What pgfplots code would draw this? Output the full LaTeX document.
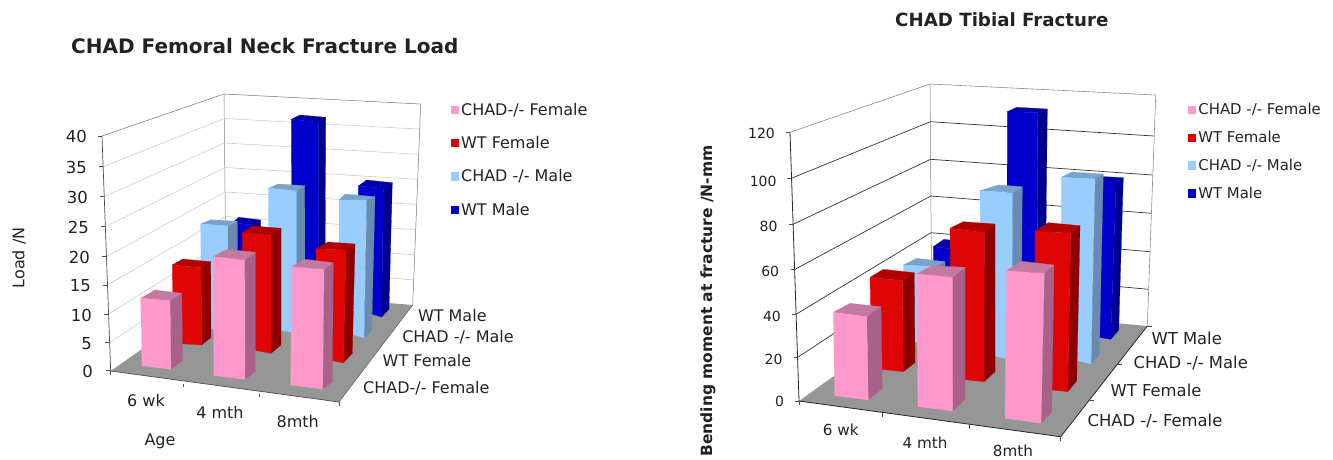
\documentclass[border=0pt]{standalone}
\usepackage{pgfplots}
\pgfplotsset{compat=1.18}
\usepackage{fontspec}
\setmainfont{DejaVu Sans}
\definecolor{pinkF}{HTML}{FF99CC}\definecolor{pinkS}{HTML}{A8628A}\definecolor{pinkT}{HTML}{C4799F}
\definecolor{redF}{HTML}{E00505}\definecolor{redS}{HTML}{8E0000}\definecolor{redT}{HTML}{B00000}
\definecolor{lbF}{HTML}{99CCFF}\definecolor{lbS}{HTML}{6A8BAF}\definecolor{lbT}{HTML}{7AA3CC}
\definecolor{dbF}{HTML}{0000CC}\definecolor{dbS}{HTML}{000090}\definecolor{dbT}{HTML}{0000A8}
\definecolor{floorc}{HTML}{969696}\definecolor{txt}{HTML}{222222}
% one 3-D column: colour prefix, then corners TL TR BR BL, top-back-left, right-back-top, right-back-bottom
\newcommand{\barcol}[2]{\barparse{#1}#2\relax}
\def\barparse#1(#2)(#3)(#4)(#5)(#6)(#7)(#8)\relax{%
 \addplot[forget plot,fill=#1S,draw=#1S,line width=.2pt] coordinates {(#3)(#4)(#8)(#7)} --cycle;
 \addplot[forget plot,fill=#1T,draw=#1T,line width=.2pt] coordinates {(#2)(#3)(#7)(#6)} --cycle;
 \addplot[forget plot,fill=#1F,draw=#1F,line width=.2pt] coordinates {(#2)(#3)(#4)(#5)} --cycle;
}
\newcommand{\seg}[3]{\addplot[forget plot,draw=#1,line width=#2] coordinates {#3};}
\pgfplotsset{panel/.style={
  at={(0,0)},anchor=south west,scale only axis,width=1333pt,height=459pt,
  xmin=0,xmax=1333,ymin=0,ymax=459,y dir=reverse,hide axis,clip=false,no markers,
  legend cell align=left,
  legend style={draw=none,fill=none,anchor=north west,inner sep=0pt,outer sep=0pt,text=txt},
  legend image code/.code={\fill[##1,draw=none] (0pt,-4.2pt) rectangle (8.4pt,4.2pt);},
}}
\begin{document}
\begin{tikzpicture}
\useasboundingbox (0,0) rectangle (1333pt,459pt);
% ---------- left panel
\begin{axis}[panel,
  legend style={at={(axis cs:450.7,101)},font=\fontsize{16pt}{18pt}\selectfont,/tikz/every even column/.style={column sep=5.5pt},row sep=15.7pt}]
\addlegendimage{fill=pinkF,draw=none}\addlegendentry{CHAD-/- Female}
\addlegendimage{fill=redF,draw=none}\addlegendentry{WT Female}
\addlegendimage{fill=lbF,draw=none}\addlegendentry{CHAD -/- Male}
\addlegendimage{fill=dbF,draw=none}\addlegendentry{WT Male}
\addplot[forget plot,fill=floorc,draw=none] coordinates {(110.7,371)(339,402)(412.7,305)(226,290)} --cycle;
\seg{black!55}{.5pt}{(102,136)(224,94)(420.7,104)(412.7,305)}
\seg{black!50}{.5pt}{(224,94)(226,290)}
\seg{black!20}{.6pt}{(109.6,342.7)(226,265.5)(413.7,279.9)}
\seg{black!20}{.6pt}{(108.5,314)(226,241)(414.7,254.8)}
\seg{black!20}{.6pt}{(107.4,285)(225.5,216.5)(415.7,229.6)}
\seg{black!20}{.6pt}{(106.4,256.7)(225,192)(416.7,204.5)}
\seg{black!20}{.6pt}{(105.3,226.7)(225,167.5)(417.7,179.4)}
\seg{black!20}{.6pt}{(104.2,196.7)(224.5,143)(418.7,154.3)}
\seg{black!20}{.6pt}{(103.1,166.7)(224.5,118.5)(419.7,129.1)}
\seg{black!70}{.7pt}{(102,136)(110.7,371)(339,402)}
\seg{black!60}{.6pt}{(339,402)(412.7,305)}
\seg{black!70}{.5pt}{(98,136)(102,136)}\seg{black!70}{.5pt}{(99,166.7)(103.1,166.7)}
\seg{black!70}{.5pt}{(100,196.7)(104.2,196.7)}\seg{black!70}{.5pt}{(101,226.7)(105.3,226.7)}
\seg{black!70}{.5pt}{(102,256.7)(106.4,256.7)}\seg{black!70}{.5pt}{(103,285)(107.4,285)}
\seg{black!70}{.5pt}{(104,314)(108.5,314)}\seg{black!70}{.5pt}{(105,342.7)(109.6,342.7)}
\seg{black!70}{.5pt}{(106,370.7)(110.7,370.7)}
\seg{black!70}{.5pt}{(110.7,371)(110.7,375)}\seg{black!70}{.5pt}{(183.3,384)(183.3,387)}
\seg{black!70}{.5pt}{(259.3,394)(259.3,397)}\seg{black!70}{.5pt}{(339,402)(339,406)}
% WT Male
\barcol{db}{(232.5,222.7)(253,225)(253,300)(232.5,295)(238.7,217.3)(260.7,220)(260.7,290)}
\barcol{db}{(291.3,119.3)(318.3,122.3)(318.3,286.7)(292,280)(300,115)(325.7,117.3)(325,280)}
\barcol{db}{(358.3,186)(383.3,188.3)(381.7,317)(358,310)(366.7,180)(392.3,182.7)(389,309)}
% CHAD -/- Male
\barcol{lb}{(200.7,224)(227.7,226)(228,330)(201.3,328)(210.7,219.7)(237.3,221.3)(237.3,313.3)}
\barcol{lb}{(268.3,188.3)(296.7,190.7)(296.7,333.3)(269,328.3)(278.3,184)(304.7,185.7)(305,326.7)}
\barcol{lb}{(339,200)(366.7,200)(364,338)(339,330)(345,194)(375,196.7)(371.7,330.7)}
% WT Female
\barcol{red}{(172.3,265)(201,267.7)(201.7,345)(173.3,343.3)(182.7,259)(210.7,261.7)(211,337.3)}
\barcol{red}{(242.3,232.3)(271,235.7)(271,353.3)(243,348.3)(252.7,226)(281,228.3)(281,345)}
\barcol{red}{(316,249)(346,250)(343.3,362.7)(317,358)(328,242)(355,244)(352.3,353.3)}
% CHAD -/- Female
\barcol{pink}{(140.7,298.3)(170,300.7)(171,369.3)(142,365.7)(155,290)(181.7,293.3)(182.7,360.7)}
\barcol{pink}{(213.3,256.7)(244.7,260)(245,379.3)(214,375.7)(226.7,249.3)(255.3,252.3)(255.3,371.7)}
\barcol{pink}{(291.7,266.7)(324,269.3)(322.7,389.3)(290.7,385)(305,259.3)(333.3,262.7)(332.3,381.7)}
\begin{scope}[every node/.style={text=txt,inner sep=0pt,font=\fontsize{16pt}{18pt}\selectfont}]
\node[anchor=west,font=\bfseries\fontsize{20pt}{22pt}\selectfont] at (axis cs:71,46) {CHAD Femoral Neck Fracture Load};
\node[rotate=90] at (axis cs:19,258) {Load /N};
\begin{scope}[every node/.append style={anchor=east,font=\fontsize{16.5pt}{18pt}\selectfont}]
\node at (axis cs:87,136.7) {40};\node at (axis cs:87,167) {35};\node at (axis cs:88,197) {30};
\node at (axis cs:89,227) {25};\node at (axis cs:90,257) {20};\node at (axis cs:91,286) {15};
\node at (axis cs:92,315) {10};\node at (axis cs:92,344) {5};\node at (axis cs:93,371.7) {0};
\end{scope}
\node at (axis cs:146,401) {6 wk};\node at (axis cs:220,412) {4 mth};\node at (axis cs:297.7,421.7) {8mth};
\node at (axis cs:160,441) {Age};
\node at (axis cs:452.3,316) {WT Male};\node at (axis cs:458,337) {CHAD -/- Male};
\node at (axis cs:427,361) {WT Female};\node at (axis cs:426.3,387.7) {CHAD-/- Female};
\end{scope}
\end{axis}
% ---------- right panel
\begin{axis}[panel,
  legend style={at={(axis cs:1188,101.5)},font=\fontsize{14.9pt}{17pt}\selectfont,/tikz/every even column/.style={column sep=3pt},row sep=11pt}]
\addlegendimage{fill=pinkF,draw=none}\addlegendentry{CHAD -/- Female}
\addlegendimage{fill=redF,draw=none}\addlegendentry{WT Female}
\addlegendimage{fill=lbF,draw=none}\addlegendentry{CHAD -/- Male}
\addlegendimage{fill=dbF,draw=none}\addlegendentry{WT Male}
\addplot[forget plot,fill=floorc,draw=none] coordinates {(799,401)(1060.7,436.7)(1147.3,326)(931.7,306)} --cycle;
\seg{black!45}{.6pt}{(790,132.3)(930,84)(1155.7,95)(1147.3,326)}
\seg{black!50}{.5pt}{(930,84)(931.7,306)}
\seg{black!80}{.7pt}{(791.3,178.3)(930.3,121.7)(1153.7,136)}
\seg{black!80}{.7pt}{(793,224.3)(930.5,159.3)(1152.3,175)}
\seg{black!80}{.7pt}{(795,269.3)(930.8,196)(1151,213.3)}
\seg{black!80}{.7pt}{(796,314.3)(931,232.7)(1149.7,251.7)}
\seg{black!80}{.7pt}{(797.7,357.3)(931.3,269.3)(1148.3,289.3)}
\seg{black!85}{.8pt}{(790,132.3)(799,401)(1060.7,436.7)(1147.3,326)}
\seg{black!70}{.5pt}{(786,132.3)(790,132.3)}\seg{black!70}{.5pt}{(787,178.3)(791.3,178.3)}
\seg{black!70}{.5pt}{(789,224.3)(793,224.3)}\seg{black!70}{.5pt}{(791,269.3)(795,269.3)}
\seg{black!70}{.5pt}{(792,314.3)(796,314.3)}\seg{black!70}{.5pt}{(793.7,357.3)(797.7,357.3)}
\seg{black!70}{.5pt}{(795,401)(799,401)}
\seg{black!70}{.5pt}{(799,401)(799,405)}\seg{black!70}{.5pt}{(882.7,413)(882.7,417)}
\seg{black!70}{.5pt}{(969.3,425)(969.3,429)}\seg{black!70}{.5pt}{(1060.7,436.7)(1060.7,441)}
\seg{black!70}{.5pt}{(1147.3,326)(1152,326)}\seg{black!70}{.5pt}{(1118,364)(1122,364)}
\seg{black!70}{.5pt}{(1090,400)(1094,400)}
% WT Male
\barcol{db}{(933.3,246.7)(963,250)(963,320)(934,315)(944,239.3)(973,243)(973,310)}
\barcol{db}{(1007.3,111.7)(1037.7,112.7)(1037,340)(1007,330)(1016.7,107.3)(1047.3,109)(1045,325)}
\barcol{db}{(1085,181.7)(1116,183.3)(1110.7,339.3)(1085,335)(1093,176)(1123.3,177.7)(1118.7,330)}
% CHAD -/- Male
\barcol{lb}{(903.3,265)(935,266.7)(935,345)(904,340)(916.7,258.3)(945,261.7)(945,330)}
\barcol{lb}{(980,190.7)(1012.7,192.7)(1012,360)(981.7,353)(998.3,185)(1022.3,186.7)(1021,348)}
\barcol{lb}{(1061.3,177.3)(1095,179)(1091,364)(1061,356.7)(1071.7,172)(1103.3,174)(1099.3,354)}
% WT Female
\barcol{red}{(870,277.3)(902.3,280.7)(903.3,371.7)(871.7,368.3)(883.3,269.3)(914.3,272.7)(915,362.7)}
\barcol{red}{(950,228.3)(984.3,232.7)(984,381.7)(951.7,378.3)(963.3,221.7)(995,224)(995,371.7)}
\barcol{red}{(1035,231)(1070.7,233.3)(1067.7,391.7)(1035,388)(1048.3,222.7)(1080,225.7)(1076.7,380.7)}
% CHAD -/- Female
\barcol{pink}{(833.3,312.3)(866.7,316.7)(868.3,400)(834.7,395.7)(850,303.3)(881,306.7)(882.3,388.3)}
\barcol{pink}{(916.7,274)(952.7,277.3)(952.7,411)(918,406.7)(931.7,265.7)(965,267.3)(965,399.3)}
\barcol{pink}{(1006.7,270.7)(1044.3,273.3)(1041,423.3)(1005,418.3)(1021.7,261.3)(1054,265)(1051.7,412.3)}
\begin{scope}[every node/.style={text=txt,inner sep=0pt,font=\fontsize{16.4pt}{18pt}\selectfont}]
\node[anchor=west,font=\bfseries\fontsize{18.2pt}{20pt}\selectfont] at (axis cs:895,20) {CHAD Tibial Fracture};
\node[rotate=90,font=\bfseries\fontsize{15.5pt}{17pt}\selectfont] at (axis cs:708,301) {Bending moment at fracture /N-mm};
\begin{scope}[every node/.append style={anchor=east,font=\fontsize{14pt}{17pt}\selectfont}]
\node at (axis cs:775,133.3) {120};\node at (axis cs:776.7,181) {100};\node at (axis cs:777.7,226.7) {80};
\node at (axis cs:779.3,271.7) {60};\node at (axis cs:781,316) {40};\node at (axis cs:782.7,359) {20};
\node at (axis cs:784.3,401.7) {0};
\end{scope}
\begin{scope}[every node/.append style={font=\fontsize{15.2pt}{17pt}\selectfont}]
\node at (axis cs:840.7,430) {6 wk};\node at (axis cs:925,442.3) {4 mth};\node at (axis cs:1013,450.5) {8mth};
\end{scope}
\node at (axis cs:1186.7,338.3) {WT Male};\node at (axis cs:1190.7,362.7) {CHAD -/- Male};
\node at (axis cs:1156,390) {WT Female};\node at (axis cs:1155,420.7) {CHAD -/- Female};
\end{scope}
\end{axis}
\end{tikzpicture}
\end{document}
